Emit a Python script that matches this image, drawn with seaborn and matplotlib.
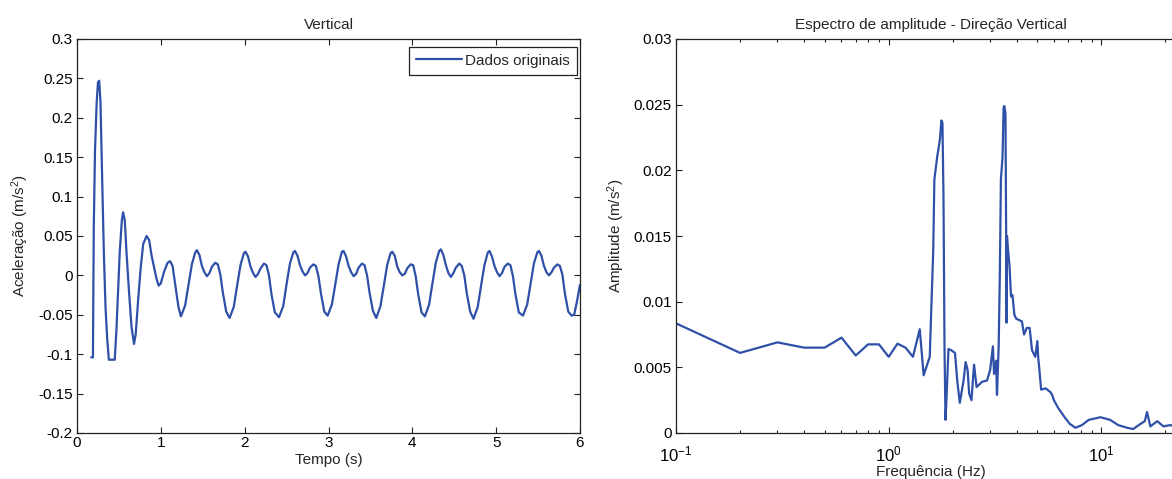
import numpy as np
import pandas as pd
import matplotlib
matplotlib.use("Agg")
import matplotlib.pyplot as plt
import seaborn as sns
from matplotlib.ticker import LogLocator

# ---------------- data ----------------
time_s = [
    0.17, 0.19, 0.20, 0.215, 0.235, 0.25, 0.265, 0.28, 0.29, 0.305, 0.32, 0.34, 0.36, 0.38, 0.45,
    0.47, 0.49, 0.51, 0.535, 0.55, 0.57, 0.59, 0.62, 0.65, 0.68, 0.70, 0.73, 0.76, 0.79, 0.83,
    0.86, 0.89, 0.92, 0.95, 0.975, 1.00, 1.04, 1.08, 1.11, 1.14, 1.17, 1.21,
    1.24, 1.29, 1.33, 1.37, 1.41, 1.43, 1.46, 1.49, 1.52, 1.55, 1.58, 1.61, 1.65, 1.68, 1.71, 1.74, 1.78,
    1.82, 1.87, 1.91, 1.95, 1.99, 2.01, 2.04, 2.07, 2.10, 2.13, 2.16, 2.19, 2.23, 2.26, 2.29, 2.32, 2.36,
    2.41, 2.46, 2.50, 2.54, 2.58, 2.60, 2.63, 2.66, 2.69, 2.72, 2.75, 2.78, 2.82, 2.85, 2.88, 2.91, 2.95,
    2.99, 3.04, 3.08, 3.12, 3.16, 3.18, 3.21, 3.24, 3.27, 3.30, 3.33, 3.36, 3.40, 3.43, 3.46, 3.49, 3.53,
    3.57, 3.62, 3.66, 3.70, 3.74, 3.76, 3.79, 3.82, 3.85, 3.88, 3.91, 3.94, 3.98, 4.01, 4.04, 4.07, 4.11,
    4.15, 4.20, 4.24, 4.28, 4.32, 4.34, 4.37, 4.40, 4.43, 4.46, 4.49, 4.52, 4.56, 4.59, 4.62, 4.65, 4.69,
    4.73, 4.78, 4.82, 4.86, 4.90, 4.92, 4.95, 4.98, 5.01, 5.04, 5.07, 5.10, 5.14, 5.17, 5.20, 5.23, 5.27,
    5.32, 5.37, 5.41, 5.45, 5.49, 5.51, 5.54, 5.57, 5.60, 5.63, 5.66, 5.69, 5.73, 5.76, 5.79, 5.82, 5.86,
    5.90, 5.93, 5.96, 6.00,
]
accel = [
    -0.104, -0.104, 0.06, 0.16, 0.22, 0.245, 0.247, 0.22, 0.17, 0.10, 0.03, -0.04, -0.08, -0.107, -0.107,
    -0.07, -0.02, 0.03, 0.07, 0.080, 0.07, 0.03, -0.02, -0.065, -0.087, -0.075, -0.03, 0.01, 0.04, 0.050,
    0.045, 0.025, 0.010, -0.005, -0.013, -0.010, 0.005, 0.016, 0.018, 0.012, -0.010, -0.040,
    -0.052, -0.038, -0.012, 0.014, 0.029, 0.032, 0.026, 0.012, 0.004, -0.001, 0.003, 0.011, 0.016, 0.014, 0.001, -0.022, -0.046,
    -0.054, -0.040, -0.013, 0.013, 0.028, 0.030, 0.024, 0.011, 0.003, -0.002, 0.002, 0.009, 0.015, 0.013, 0.000, -0.024, -0.047,
    -0.053, -0.039, -0.011, 0.015, 0.029, 0.031, 0.025, 0.013, 0.005, 0.000, 0.003, 0.010, 0.014, 0.012, -0.001, -0.023, -0.046,
    -0.051, -0.037, -0.012, 0.014, 0.030, 0.031, 0.024, 0.012, 0.004, -0.001, 0.002, 0.010, 0.015, 0.013, 0.000, -0.022, -0.045,
    -0.054, -0.039, -0.013, 0.013, 0.028, 0.030, 0.025, 0.011, 0.004, 0.000, 0.002, 0.009, 0.014, 0.013, -0.001, -0.024, -0.047,
    -0.052, -0.037, -0.010, 0.016, 0.031, 0.033, 0.026, 0.013, 0.003, -0.002, 0.003, 0.010, 0.015, 0.012, 0.000, -0.023, -0.046,
    -0.055, -0.040, -0.013, 0.013, 0.029, 0.031, 0.024, 0.012, 0.004, -0.001, 0.003, 0.011, 0.015, 0.013, -0.001, -0.024, -0.047,
    -0.051, -0.037, -0.011, 0.015, 0.029, 0.031, 0.025, 0.012, 0.004, 0.000, 0.004, 0.010, 0.014, 0.012, 0.001, -0.023, -0.046,
    -0.051, -0.050, -0.035, -0.012,
]

freq_hz = [
    0.1, 0.2, 0.3, 0.4, 0.5, 0.6, 0.7, 0.8, 0.9, 1.0, 1.1, 1.2, 1.3, 1.4, 1.46, 1.56, 1.58, 1.62, 1.64,
    1.69, 1.74, 1.77, 1.79, 1.81, 1.83, 1.85, 1.88, 1.91, 1.97, 2.05, 2.10, 2.16, 2.25, 2.30, 2.35, 2.39,
    2.45, 2.52, 2.59, 2.75, 2.90, 3.00, 3.09, 3.13, 3.20, 3.23, 3.29, 3.33, 3.37, 3.43, 3.47, 3.50, 3.54,
    3.57, 3.58, 3.60, 3.63, 3.70, 3.76, 3.82, 3.90, 3.98, 4.23, 4.33, 4.46, 4.60, 4.72, 4.89, 5.00, 5.05,
    5.10, 5.21, 5.47, 5.77, 5.87, 5.98, 6.27, 6.72, 7.1, 7.55, 8.1, 8.72, 9.9, 11.0, 12.0, 13.2, 14.1,
    15.3, 16.0, 16.4, 17.0, 18.3, 19.6, 21.0, 22.5, 25.0,
]
amplitude = [
    0.00835, 0.0061, 0.0069, 0.0065, 0.0065, 0.00726, 0.0059, 0.00675, 0.00675, 0.0058, 0.0068, 0.0065,
    0.0058, 0.0079, 0.0044, 0.0058, 0.0086, 0.0139, 0.0193, 0.0210, 0.0223, 0.0238, 0.0236, 0.0180,
    0.0066, 0.0010, 0.0035, 0.0064, 0.0063, 0.0061, 0.0040, 0.0023, 0.0040, 0.0054, 0.0048, 0.0030,
    0.0025, 0.0052, 0.0035, 0.0039, 0.0040, 0.0048, 0.0066, 0.0045, 0.0055, 0.0029, 0.0066, 0.0119,
    0.0193, 0.0210, 0.0248, 0.0249, 0.0243, 0.0142, 0.0084, 0.0150, 0.0142, 0.0127, 0.0104, 0.0105,
    0.0090, 0.0087, 0.0085, 0.0075, 0.0080, 0.0080, 0.0063, 0.0058, 0.0070, 0.0057, 0.0050, 0.0033,
    0.0034, 0.0031, 0.0029, 0.0025, 0.0019, 0.0012, 0.0007, 0.0004, 0.0006, 0.0010, 0.0012, 0.0010,
    0.0006, 0.0004, 0.0003, 0.0007, 0.0009, 0.0016, 0.0005, 0.0009, 0.0005, 0.0006, 0.0005, 0.0006,
]

left_yticks = [-0.2, -0.15, -0.1, -0.05, 0, 0.05, 0.1, 0.15, 0.2, 0.25, 0.3]
left_yticklabels = ["-0.2", "-0.15", "-0.1", "-0.05", "0", "0.05", "0.1", "0.15", "0.2", "0.25", "0.3"]
left_xticks = [0, 1, 2, 3, 4, 5, 6]
right_yticks = [0, 0.005, 0.01, 0.015, 0.02, 0.025, 0.03]
right_yticklabels = ["0", "0.005", "0.01", "0.015", "0.02", "0.025", "0.03"]

# ---------------- style ----------------
sns.set_style("ticks")
plt.rcParams["font.family"] = ["Liberation Sans", "DejaVu Sans"]
plt.rcParams["mathtext.fontset"] = "custom"
plt.rcParams["mathtext.rm"] = "Liberation Sans"
plt.rcParams["mathtext.it"] = "Liberation Sans"
fs = 11
line_color = "#2f50a8"

W, H = 1172, 479
fig = plt.figure(figsize=(W / 100, H / 100), dpi=100)
ax1 = fig.add_axes([77 / W, (H - 433) / H, 503 / W, 394 / H])
ax2 = fig.add_axes([676 / W, (H - 433) / H, (1186 - 676) / W, 394 / H])

df1 = pd.DataFrame({"t": time_s, "a": accel})
df2 = pd.DataFrame({"f": freq_hz, "A": amplitude})

sns.lineplot(data=df1, x="t", y="a", ax=ax1, color=line_color, linewidth=1.6,
             label="Dados originais", sort=False)
sns.lineplot(data=df2, x="f", y="A", ax=ax2, color=line_color, linewidth=1.6,
             legend=False, sort=False)

for ax in (ax1, ax2):
    for s in ax.spines.values():
        s.set_visible(True)
        s.set_linewidth(0.9)
        s.set_color("#222222")
    ax.tick_params(which="both", direction="in", top=True, right=True,
                   labelsize=fs, colors="#222222", labelcolor="black", width=0.8)
    ax.tick_params(which="major", length=4.5)
    ax.tick_params(which="minor", length=2.5)
    ax.tick_params(axis="y", pad=3)
    ax.tick_params(axis="x", pad=2)

# left
ax1.set_xlim(0, 6)
ax1.set_ylim(-0.2, 0.3)
ax1.set_xticks(left_xticks)
ax1.set_xticklabels([str(v) for v in left_xticks])
ax1.set_yticks(left_yticks)
ax1.set_yticklabels(left_yticklabels)
ax1.set_xlabel("Tempo (s)", fontsize=fs, labelpad=2)
ax1.set_ylabel("Aceleração (m/s$^2$)", fontsize=fs, labelpad=5)
ax1.set_title("Vertical", fontsize=fs, pad=7)
leg = ax1.legend(loc="upper right", bbox_to_anchor=(0.994, 0.98), borderaxespad=0,
                 fancybox=False, framealpha=1, edgecolor="#222222", fontsize=fs,
                 handlelength=3.0, handletextpad=0.25, borderpad=0.45)
leg.get_frame().set_linewidth(0.9)

# right
ax2.set_xscale("log")
ax2.set_xlim(0.1, 25)
ax2.set_ylim(0, 0.03)
ax2.xaxis.set_major_locator(LogLocator(base=10))
ax2.xaxis.set_minor_locator(LogLocator(base=10, subs=np.arange(2, 10)))
ax2.tick_params(axis="x", which="major", pad=8, labelsize=fs + 1)
ax2.set_yticks(right_yticks)
ax2.set_yticklabels(right_yticklabels)
ax2.set_xlabel("Frequência (Hz)", fontsize=fs, labelpad=1)
ax2.set_ylabel("Amplitude (m/s$^2$)", fontsize=fs, labelpad=5)
ax2.set_title("Espectro de amplitude - Direção Vertical", fontsize=fs, pad=7)

fig.savefig("out.png", dpi=100)
